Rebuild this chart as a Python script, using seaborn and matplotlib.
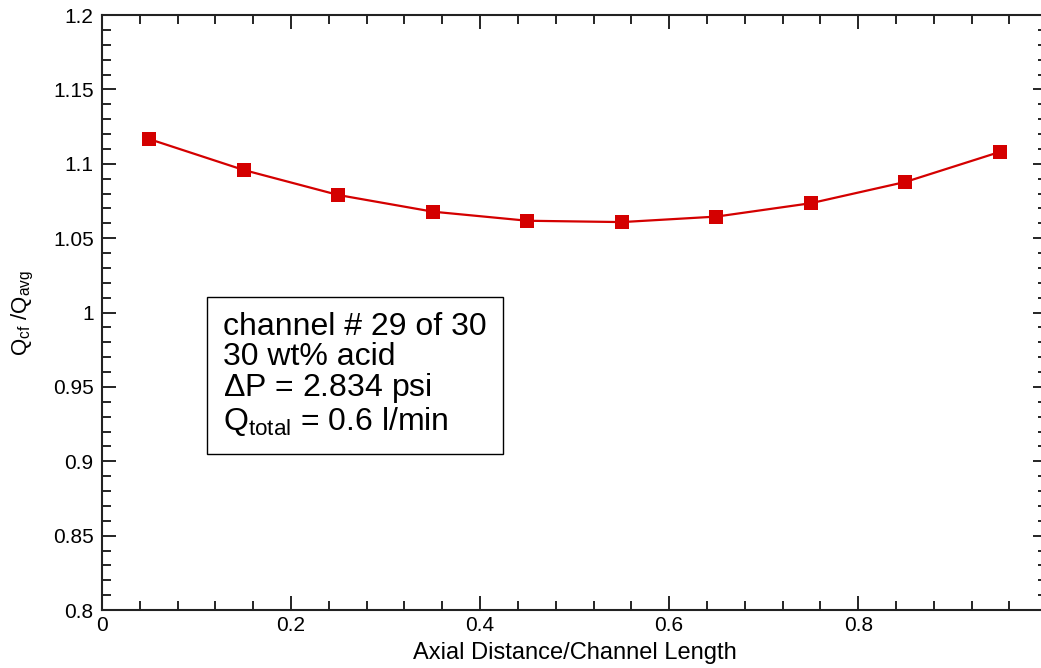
import matplotlib
matplotlib.use("Agg")
import matplotlib.pyplot as plt
from matplotlib.ticker import MultipleLocator, FuncFormatter
import seaborn as sns
import pandas as pd

# Normalized axial position along the channel and the local flow ratio
axial_position = [0.05, 0.15, 0.25, 0.35, 0.45, 0.55, 0.65, 0.75, 0.85, 0.95]
flow_ratio = [1.1166, 1.0958, 1.0790, 1.0678, 1.0617, 1.0608, 1.0645, 1.0735, 1.0878, 1.1080]

info_lines = ["channel # 29 of 30", "30 wt% acid", r"$\Delta$P = 2.834 psi",
              r"Q$_{\mathregular{total}}$ = 0.6 l/min"]

sns.set_style("ticks")
plt.rcParams["font.family"] = ["Liberation Sans", "DejaVu Sans"]
plt.rcParams["mathtext.fontset"] = "custom"
plt.rcParams["mathtext.rm"] = "Liberation Sans"
plt.rcParams["mathtext.it"] = "Liberation Sans"
plt.rcParams["mathtext.sf"] = "Liberation Sans"
plt.rcParams["text.color"] = "black"
plt.rcParams["axes.labelcolor"] = "black"

df = pd.DataFrame({"x": axial_position, "y": flow_ratio})

fig = plt.figure(figsize=(10.41, 6.68), dpi=100)
ax = fig.add_axes([0.098, 0.0868, 0.908, 0.8907])

sns.lineplot(data=df, x="x", y="y", ax=ax, color="#d40000", linewidth=1.6,
             marker="s", markersize=10.5, markeredgewidth=0, markerfacecolor="#d40000")

ax.set_xlim(0, 1)
ax.set_ylim(0.8, 1.2)
ax.xaxis.set_major_locator(MultipleLocator(0.2))
ax.xaxis.set_minor_locator(MultipleLocator(0.04))
ax.yaxis.set_major_locator(MultipleLocator(0.05))
ax.yaxis.set_minor_locator(MultipleLocator(0.01))

ax.xaxis.set_major_formatter(FuncFormatter(lambda v, p: f"{v:g}" if v < 0.99 else ""))
ax.yaxis.set_major_formatter(FuncFormatter(lambda v, p: f"{round(v, 2):g}"))

ax.tick_params(which="both", direction="in", top=True, right=True, colors="black",
               labelsize=15)
ax.tick_params(which="major", length=10, width=1.2)
ax.tick_params(which="minor", length=6.5, width=1.2)
ax.tick_params(axis="x", pad=4)
ax.tick_params(axis="y", pad=6)

for s in ax.spines.values():
    s.set_linewidth(1.5)
    s.set_color("#222222")

ax.set_xlabel("Axial Distance/Channel Length", fontsize=17, labelpad=5)
ax.set_ylabel(r"Q$_{\mathregular{cf}}$ /Q$_{\mathregular{avg}}$", fontsize=16, labelpad=12)

ax.text(0.128, 1.0003, "\n".join(info_lines), fontsize=23, va="top", ha="left",
        linespacing=0.98, transform=ax.transData,
        bbox=dict(boxstyle="square,pad=0.5", facecolor="white", edgecolor="black",
                  linewidth=1.0))

fig.savefig("out.png", dpi=100)
